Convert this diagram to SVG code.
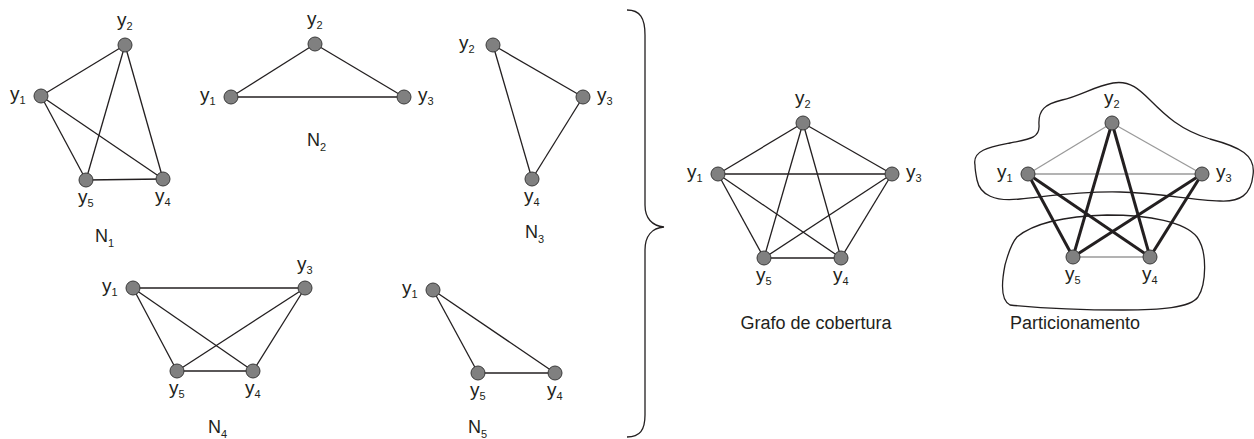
<svg xmlns="http://www.w3.org/2000/svg" width="1254" height="439" viewBox="0 0 1254 439">
<style>
.e{stroke:#231f20;stroke-width:1.3;fill:none}
.g{stroke:#9a9a9a;stroke-width:1.3;fill:none}
.t{stroke:#231f20;stroke-width:3;fill:none}
.n{fill:#808080;stroke:#3a3a3a;stroke-width:1}
.l{font-family:"Liberation Sans",Arial,sans-serif;font-size:19px;fill:#231f20}
.s{font-size:11px}
.c{font-family:"Liberation Sans",Arial,sans-serif;font-size:18px;fill:#231f20}
.b{stroke:#231f20;stroke-width:1.3;fill:none}
</style>
<rect width="1254" height="439" fill="#ffffff"/>
<g id="connectors">
<!-- N1 -->
<line class="e" x1="41" y1="96" x2="125" y2="45"/>
<line class="e" x1="41" y1="96" x2="86" y2="180"/>
<line class="e" x1="41" y1="96" x2="163" y2="179"/>
<line class="e" x1="125" y1="45" x2="86" y2="180"/>
<line class="e" x1="125" y1="45" x2="163" y2="179"/>
<line class="e" x1="86" y1="180" x2="163" y2="179"/>
<!-- N2 -->
<line class="e" x1="231" y1="97" x2="315" y2="44"/>
<line class="e" x1="315" y1="44" x2="404" y2="97"/>
<line class="e" x1="231" y1="97" x2="404" y2="97"/>
<!-- N3 -->
<line class="e" x1="493" y1="45" x2="583" y2="97"/>
<line class="e" x1="493" y1="45" x2="532" y2="179"/>
<line class="e" x1="583" y1="97" x2="532" y2="179"/>
<!-- N4 -->
<line class="e" x1="133" y1="288" x2="305" y2="288"/>
<line class="e" x1="133" y1="288" x2="177" y2="371"/>
<line class="e" x1="133" y1="288" x2="253" y2="371"/>
<line class="e" x1="305" y1="288" x2="177" y2="371"/>
<line class="e" x1="305" y1="288" x2="253" y2="371"/>
<line class="e" x1="177" y1="371" x2="253" y2="371"/>
<!-- N5 -->
<line class="e" x1="433" y1="290" x2="478" y2="373"/>
<line class="e" x1="433" y1="290" x2="555" y2="373"/>
<line class="e" x1="478" y1="373" x2="555" y2="373"/>
<!-- Grafo de cobertura -->
<line class="e" x1="718" y1="174" x2="803" y2="123"/>
<line class="e" x1="803" y1="123" x2="892" y2="174"/>
<line class="e" x1="718" y1="174" x2="892" y2="174"/>
<line class="e" x1="718" y1="174" x2="764" y2="258"/>
<line class="e" x1="718" y1="174" x2="841" y2="258"/>
<line class="e" x1="803" y1="123" x2="764" y2="258"/>
<line class="e" x1="803" y1="123" x2="841" y2="258"/>
<line class="e" x1="892" y1="174" x2="764" y2="258"/>
<line class="e" x1="892" y1="174" x2="841" y2="258"/>
<line class="e" x1="764" y1="258" x2="841" y2="258"/>
<!-- Particionamento -->
<line class="g" x1="1028" y1="174" x2="1112" y2="123"/>
<line class="g" x1="1112" y1="123" x2="1202" y2="174"/>
<line class="g" x1="1028" y1="174" x2="1202" y2="174"/>
<line class="g" x1="1073" y1="257" x2="1150" y2="257"/>
<line class="t" x1="1028" y1="174" x2="1073" y2="257"/>
<line class="t" x1="1028" y1="174" x2="1150" y2="257"/>
<line class="t" x1="1112" y1="123" x2="1073" y2="257"/>
<line class="t" x1="1112" y1="123" x2="1150" y2="257"/>
<line class="t" x1="1202" y1="174" x2="1073" y2="257"/>
<line class="t" x1="1202" y1="174" x2="1150" y2="257"/>
</g>
<g id="brace">
<path class="b" d="M627,10 C640,10 645,18 645,35 L645,205 C645,218 652,226 664,227 C652,228 645,236 645,250 L645,415 C645,430 640,437 627,437"/>
</g>
<g id="partitions">
<path class="b" d="M975,165 C972,150 990,147 1010,143 C1030,139 1040,138 1039,125 C1038,110 1045,104 1062,100 C1080,96 1095,86 1113,83 C1130,80 1140,90 1150,100 C1165,115 1180,130 1210,139 C1240,147 1256,155 1253,175 C1251,195 1240,202 1220,201 C1190,200 1160,193 1120,192 C1080,191 1050,196 1020,199 C995,202 980,195 977,180 C976,175 975,170 975,165 Z"/>
<path class="b" d="M1017,237 C1035,222 1070,216 1107,215 C1150,215 1185,222 1197,237 C1208,252 1206,285 1198,297 C1190,308 1160,310 1123,310 C1080,310 1040,308 1010,305 C1000,300 1002,280 1005,265 C1008,255 1010,245 1017,237 Z"/>
</g>
<!-- N1 -->
<g id="N1-y1"><circle class="n" cx="41" cy="96" r="7"/><text class="l" x="10" y="100">y<tspan class="s" dy="4">1</tspan></text></g>
<g id="N1-y2"><circle class="n" cx="125" cy="45" r="7"/><text class="l" x="117" y="26">y<tspan class="s" dy="4">2</tspan></text></g>
<g id="N1-y5"><circle class="n" cx="86" cy="180" r="7"/><text class="l" x="78" y="203">y<tspan class="s" dy="4">5</tspan></text></g>
<g id="N1-y4"><circle class="n" cx="163" cy="179" r="7"/><text class="l" x="155" y="202">y<tspan class="s" dy="4">4</tspan></text></g>
<g id="N1-label"><text class="c" x="95" y="242">N<tspan class="s" dy="5">1</tspan></text></g>
<!-- N2 -->
<g id="N2-y1"><circle class="n" cx="231" cy="97" r="7"/><text class="l" x="200" y="101">y<tspan class="s" dy="4">1</tspan></text></g>
<g id="N2-y2"><circle class="n" cx="315" cy="44" r="7"/><text class="l" x="307" y="25">y<tspan class="s" dy="4">2</tspan></text></g>
<g id="N2-y3"><circle class="n" cx="404" cy="97" r="7"/><text class="l" x="418" y="101">y<tspan class="s" dy="4">3</tspan></text></g>
<g id="N2-label"><text class="c" x="307" y="146">N<tspan class="s" dy="5">2</tspan></text></g>
<!-- N3 -->
<g id="N3-y2"><circle class="n" cx="493" cy="45" r="7"/><text class="l" x="459" y="49">y<tspan class="s" dy="4">2</tspan></text></g>
<g id="N3-y3"><circle class="n" cx="583" cy="97" r="7"/><text class="l" x="597" y="101">y<tspan class="s" dy="4">3</tspan></text></g>
<g id="N3-y4"><circle class="n" cx="532" cy="179" r="7"/><text class="l" x="524" y="202">y<tspan class="s" dy="4">4</tspan></text></g>
<g id="N3-label"><text class="c" x="525" y="238">N<tspan class="s" dy="5">3</tspan></text></g>
<!-- N4 -->
<g id="N4-y1"><circle class="n" cx="133" cy="288" r="7"/><text class="l" x="102" y="292">y<tspan class="s" dy="4">1</tspan></text></g>
<g id="N4-y3"><circle class="n" cx="305" cy="288" r="7"/><text class="l" x="297" y="270">y<tspan class="s" dy="4">3</tspan></text></g>
<g id="N4-y5"><circle class="n" cx="177" cy="371" r="7"/><text class="l" x="169" y="394">y<tspan class="s" dy="4">5</tspan></text></g>
<g id="N4-y4"><circle class="n" cx="253" cy="371" r="7"/><text class="l" x="245" y="394">y<tspan class="s" dy="4">4</tspan></text></g>
<g id="N4-label"><text class="c" x="208" y="433">N<tspan class="s" dy="5">4</tspan></text></g>
<!-- N5 -->
<g id="N5-y1"><circle class="n" cx="433" cy="290" r="7"/><text class="l" x="402" y="294">y<tspan class="s" dy="4">1</tspan></text></g>
<g id="N5-y5"><circle class="n" cx="478" cy="373" r="7"/><text class="l" x="470" y="396">y<tspan class="s" dy="4">5</tspan></text></g>
<g id="N5-y4"><circle class="n" cx="555" cy="373" r="7"/><text class="l" x="547" y="396">y<tspan class="s" dy="4">4</tspan></text></g>
<g id="N5-label"><text class="c" x="468" y="433">N<tspan class="s" dy="5">5</tspan></text></g>
<!-- Grafo de cobertura -->
<g id="G-y1"><circle class="n" cx="718" cy="174" r="7"/><text class="l" x="687" y="178">y<tspan class="s" dy="4">1</tspan></text></g>
<g id="G-y2"><circle class="n" cx="803" cy="123" r="7"/><text class="l" x="795" y="104">y<tspan class="s" dy="4">2</tspan></text></g>
<g id="G-y3"><circle class="n" cx="892" cy="174" r="7"/><text class="l" x="906" y="178">y<tspan class="s" dy="4">3</tspan></text></g>
<g id="G-y5"><circle class="n" cx="764" cy="258" r="7"/><text class="l" x="756" y="281">y<tspan class="s" dy="4">5</tspan></text></g>
<g id="G-y4"><circle class="n" cx="841" cy="258" r="7"/><text class="l" x="833" y="281">y<tspan class="s" dy="4">4</tspan></text></g>
<g id="G-label"><text class="c" x="816" y="329" text-anchor="middle">Grafo de cobertura</text></g>
<!-- Particionamento -->
<g id="P-y1"><circle class="n" cx="1028" cy="174" r="7"/><text class="l" x="997" y="178">y<tspan class="s" dy="4">1</tspan></text></g>
<g id="P-y2"><circle class="n" cx="1112" cy="123" r="7"/><text class="l" x="1104" y="104">y<tspan class="s" dy="4">2</tspan></text></g>
<g id="P-y3"><circle class="n" cx="1202" cy="174" r="7"/><text class="l" x="1216" y="178">y<tspan class="s" dy="4">3</tspan></text></g>
<g id="P-y5"><circle class="n" cx="1073" cy="257" r="7"/><text class="l" x="1065" y="280">y<tspan class="s" dy="4">5</tspan></text></g>
<g id="P-y4"><circle class="n" cx="1150" cy="257" r="7"/><text class="l" x="1142" y="280">y<tspan class="s" dy="4">4</tspan></text></g>
<g id="P-label"><text class="c" x="1075" y="329" text-anchor="middle">Particionamento</text></g>
</svg>
